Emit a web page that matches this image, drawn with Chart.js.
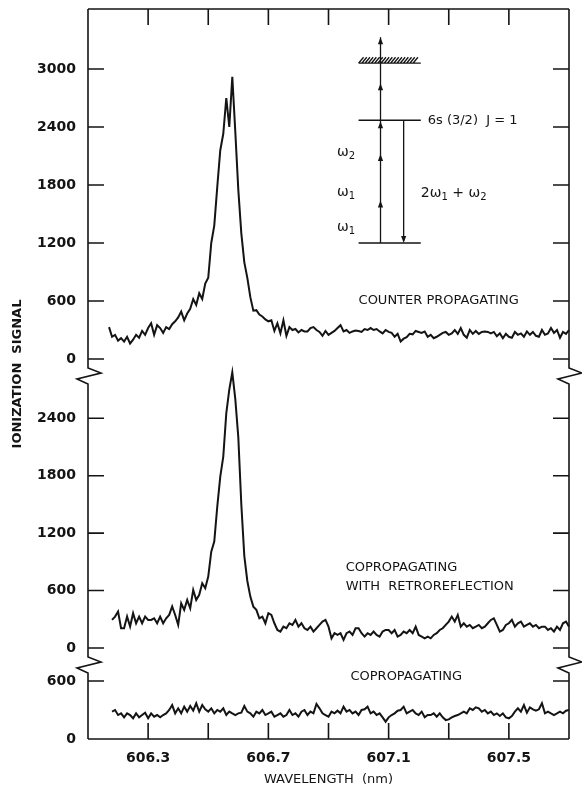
<!DOCTYPE html>
<html>
<head>
<meta charset="utf-8">
<script src="https://cdn.jsdelivr.net/npm/chart.js@4.4.1/dist/chart.umd.min.js"></script>
<style>
  html, body { margin: 0; padding: 0; background: #fff; }
  #wrap { position: relative; width: 582px; height: 790px; }
</style>
</head>
<body>
<div id="wrap"><canvas id="chart" width="582" height="790"></canvas></div>
<script>
// scan grid (nm): one reading every 0.01 nm
const scanStart = 606.17;
const scanStep = 0.01;

// ionization signal
const counterProp = [
  330, 230, 250, 190, 215, 180, 230, 160, 200, 250, 220, 290, 250, 320, 370, 250, 350, 320, 270, 330,
  310, 360, 390, 430, 490, 400, 470, 520, 620, 560, 680, 620, 780, 840, 1200, 1380, 1780, 2160, 2330, 2700,
  2400, 2920, 2350, 1750, 1300, 1000, 840,
  640, 500, 505, 460, 440, 410, 390, 400, 290, 370, 265, 400, 240, 330, 300, 310, 275, 300, 285, 285,
  320, 330, 300, 280, 240, 290, 250, 270, 290, 320, 350, 285, 300, 270, 285, 295, 290, 280, 310, 300,
  320, 300, 310, 285, 265, 300, 280, 270, 230, 260,
  180, 210, 225, 260, 255, 290, 280, 270, 285, 230, 250, 215, 230, 250, 270, 280, 250, 265, 300, 260,
  320, 250, 220, 300, 260, 290, 260, 280, 285, 280, 265, 280, 235, 265, 215, 260, 230, 220, 280, 250,
  265, 230, 285, 250, 280, 240, 230, 300, 250, 265, 320, 270, 300, 220, 280, 260, 300
];

const coPropRetro = [
  null,
  293, 328, 380, 206, 206, 328, 224, 363, 258, 328, 258, 328, 293, 293, 310, 258, 328, 258, 310, 345,
  433, 345, 241, 467, 398, 502, 415, 607, 502, 555, 676, 624, 746, 1007, 1112, 1477, 1791, 2000, 2453, 2700,
  2880, 2600, 2200, 1500, 960, 700,
  537, 432, 398, 310, 328, 258, 363, 345, 258, 188, 171, 223, 206, 258, 241, 293, 223, 258, 206, 188,
  223, 171, 206, 241, 276, 293, 223, 101, 154, 136, 154, 84, 154, 171, 136, 206, 206, 154, 119, 154,
  136, 171, 136, 119, 171, 188, 188, 154, 188, 119,
  136, 171, 154, 188, 154, 223, 136, 119, 101, 119, 101, 136, 154, 188, 206, 241, 276, 328, 276, 345,
  223, 258, 223, 241, 206, 223, 241, 206, 223, 258, 293, 310, 241, 171, 188, 241, 258, 293, 223, 258,
  276, 223, 241, 258, 223, 241, 206, 223, 223, 188, 206, 171, 223, 188, 258, 276, 223
];

const coProp = [
  null,
  283, 300, 248, 265, 224, 265, 248, 214, 265, 224, 248, 272, 214, 265, 231, 248, 224, 248, 265, 300,
  351, 265, 317, 265, 334, 283, 341, 293, 369, 283, 351, 307, 283, 317, 265, 300, 283, 317, 248, 283,
  265, 248, 265, 272, 341, 283, 265, 231, 283, 265, 300, 248, 265, 283, 231, 248, 265, 231, 248, 300,
  248, 265, 231, 283, 300, 248, 283, 265, 362, 317, 265, 248, 231, 283, 265, 293, 265,
  334, 283, 300, 265, 283, 248, 300, 307, 334, 265, 283, 248, 265, 224, 179, 224, 248, 265, 293, 300,
  334, 265, 283, 300, 265, 248, 283, 224, 248, 248, 265, 231, 265, 224, 196, 203, 224, 238, 248, 265,
  283, 265, 317, 300, 327, 317, 283, 300, 265, 283, 248, 265, 238, 265, 224, 214, 238, 283, 317, 283,
  351, 272, 327, 307, 293, 307, 369, 265, 283, 265, 248, 265, 283, 265, 293, 300
];

// axis ticks
const xTicks = [606.1, 606.3, 606.5, 606.7, 606.9, 607.1, 607.3, 607.5, 607.7];
const xLabeled = [606.3, 606.7, 607.1, 607.5];
const topTicks = [0, 600, 1200, 1800, 2400, 3000];
const midTicks = [0, 600, 1200, 1800, 2400];
const botTicks = [0, 600];

const ink = "#141414";
const FONT = '"DejaVu Sans", sans-serif';

function toPoints(values) {
  const pts = [];
  values.forEach((v, i) => {
    if (v !== null) pts.push({ x: +(scanStart + i * scanStep).toFixed(3), y: v });
  });
  return pts;
}

// frame with broken sides, inward ticks, level diagram and captions
const framePlugin = {
  id: "frameAndNotes",
  afterDatasetsDraw(chart) {
    const { ctx, chartArea: ca, scales } = chart;
    const sx = scales.x, yT = scales.yTop, yM = scales.yMid, yB = scales.yBot;
    ctx.save();
    ctx.strokeStyle = ink;
    ctx.fillStyle = ink;
    ctx.lineWidth = 1.6;

    const breaks = [yT.bottom, yM.bottom];
    ctx.beginPath();
    ctx.moveTo(ca.left, ca.top); ctx.lineTo(ca.right, ca.top);
    ctx.moveTo(ca.left, ca.bottom); ctx.lineTo(ca.right, ca.bottom);
    [ca.left, ca.right].forEach(x => {
      ctx.moveTo(x, ca.top);
      breaks.forEach(b => {
        ctx.lineTo(x, b - 8);
        ctx.lineTo(x + 13, b - 3);
        ctx.lineTo(x - 11, b + 3);
        ctx.lineTo(x, b + 8);
      });
      ctx.lineTo(x, ca.bottom);
    });
    ctx.stroke();

    // inward tick marks
    const tl = 16;
    ctx.beginPath();
    xTicks.forEach(v => {
      const px = sx.getPixelForValue(v);
      if (px <= ca.left + 1 || px >= ca.right - 1) return;
      ctx.moveTo(px, ca.top); ctx.lineTo(px, ca.top + tl);
      ctx.moveTo(px, ca.bottom); ctx.lineTo(px, ca.bottom - tl);
    });
    [[yT, topTicks], [yM, midTicks], [yB, botTicks]].forEach(([s, vals]) => {
      vals.forEach(v => {
        const py = s.getPixelForValue(v);
        if (py >= ca.bottom - 1) return;
        ctx.moveTo(ca.left, py); ctx.lineTo(ca.left + tl, py);
        ctx.moveTo(ca.right, py); ctx.lineTo(ca.right - tl, py);
      });
    });
    ctx.stroke();

    // energy level inset (placed in top panel data units)
    const X = v => sx.getPixelForValue(v);
    const Y = v => yT.getPixelForValue(v);
    const lvlL = X(607.0), lvlR = X(607.207);
    const ladder = X(607.073), emit = X(607.15);
    const gY = Y(1200), eY = Y(2470), iY = Y(3060), topY = Y(3330);
    ctx.lineWidth = 1.3;
    ctx.beginPath();
    ctx.moveTo(lvlL, gY); ctx.lineTo(lvlR, gY);
    ctx.moveTo(lvlL, eY); ctx.lineTo(lvlR, eY);
    ctx.moveTo(lvlL, iY); ctx.lineTo(lvlR, iY);
    for (let hx = lvlL; hx <= lvlR - 5; hx += 3.2) {
      ctx.moveTo(hx, iY); ctx.lineTo(hx + 5, iY - 6);
    }
    ctx.moveTo(ladder, gY); ctx.lineTo(ladder, topY);
    ctx.moveTo(emit, eY); ctx.lineTo(emit, gY - 2);
    ctx.stroke();

    const upHead = (x, y) => {
      ctx.beginPath();
      ctx.moveTo(x, y); ctx.lineTo(x - 2.6, y + 7); ctx.lineTo(x + 2.6, y + 7);
      ctx.closePath(); ctx.fill();
    };
    [1640, 2120, 2460, 2854, 3330].forEach(v => upHead(ladder, Y(v)));
    ctx.beginPath();
    ctx.moveTo(emit, gY); ctx.lineTo(emit - 2.6, gY - 7); ctx.lineTo(emit + 2.6, gY - 7);
    ctx.closePath(); ctx.fill();

    ctx.textBaseline = "middle";
    ctx.textAlign = "left";
    const omega = (x, y, sub) => {
      ctx.font = "14px " + FONT;
      ctx.fillText("\u03c9", x, y);
      const w = ctx.measureText("\u03c9").width;
      ctx.font = "10px " + FONT;
      ctx.fillText(sub, x + w, y + 4);
      return x + w + ctx.measureText(sub).width;
    };
    omega(X(606.928), Y(2140), "2");
    omega(X(606.928), Y(1727), "1");
    omega(X(606.928), Y(1365), "1");
    ctx.font = "13px " + FONT;
    ctx.fillText("6s (3/2)  J = 1", X(607.23), Y(2470));
    let tx = X(607.207);
    ctx.font = "14px " + FONT;
    ctx.fillText("2", tx, Y(1716));
    tx += ctx.measureText("2").width;
    tx = omega(tx, Y(1716), "1");
    ctx.font = "14px " + FONT;
    ctx.fillText(" + ", tx, Y(1716));
    tx += ctx.measureText(" + ").width;
    omega(tx, Y(1716), "2");

    // trace captions
    ctx.font = "13px " + FONT;
    ctx.fillText("COUNTER PROPAGATING", X(607.0), Y(600));
    ctx.fillText("COPROPAGATING", X(606.957), yM.getPixelForValue(836));
    ctx.fillText("WITH  RETROREFLECTION", X(606.957), yM.getPixelForValue(637));
    ctx.fillText("COPROPAGATING", X(606.973), yB.getPixelForValue(641));

    // y axis title
    ctx.translate(18, 374);
    ctx.rotate(-Math.PI / 2);
    ctx.textAlign = "center";
    ctx.font = "bold 13px " + FONT;
    ctx.fillText("IONIZATION  SIGNAL", 0, 0);
    ctx.restore();
  }
};

function yAxis(min, max, ticks, weight, stackWeight) {
  return {
    type: "linear",
    position: "left",
    stack: "signal",
    stackWeight: stackWeight,
    weight: weight,
    min: min,
    max: max,
    grid: { display: false, drawTicks: false },
    border: { display: false },
    afterBuildTicks: s => { s.ticks = ticks.map(v => ({ value: v })); },
    afterFit: s => {
      s.width = 88;
      s.paddingTop = 0;
      s.paddingBottom = 0;
    },
    ticks: {
      autoSkip: false,
      padding: 12,
      color: ink,
      font: { family: FONT, size: 14, weight: "bold" },
      callback: v => String(v)
    }
  };
}

const lineStyle = {
  borderColor: ink,
  borderWidth: 2,
  pointRadius: 0,
  tension: 0,
  fill: false,
  clip: false
};

new Chart(document.getElementById("chart"), {
  type: "line",
  data: {
    datasets: [
      Object.assign({ label: "Counter propagating", data: toPoints(counterProp), yAxisID: "yTop" }, lineStyle),
      Object.assign({ label: "Copropagating with retroreflection", data: toPoints(coPropRetro), yAxisID: "yMid" }, lineStyle),
      Object.assign({ label: "Copropagating", data: toPoints(coProp), yAxisID: "yBot" }, lineStyle)
    ]
  },
  options: {
    responsive: false,
    animation: false,
    devicePixelRatio: 1,
    layout: { padding: { top: 9, right: 13, bottom: 0, left: 0 } },
    plugins: { legend: { display: false }, tooltip: { enabled: false } },
    scales: {
      x: {
        type: "linear",
        position: "bottom",
        min: 606.1,
        max: 607.7,
        grid: { display: false, drawTicks: false },
        border: { display: false },
        afterBuildTicks: s => { s.ticks = xTicks.map(v => ({ value: v })); },
        afterFit: s => {
          s.height = 51;
          s.paddingLeft = 0;
          s.paddingRight = 0;
        },
        ticks: {
          autoSkip: false,
          maxRotation: 0,
          padding: 11,
          color: ink,
          font: { family: FONT, size: 14, weight: "bold" },
          callback: v => (xLabeled.some(t => Math.abs(t - v) < 1e-6) ? v.toFixed(1) : "")
        },
        title: {
          display: true,
          text: "WAVELENGTH  (nm)",
          color: ink,
          font: { family: FONT, size: 13 },
          padding: { top: 0, bottom: 3 }
        }
      },
      yTop: yAxis(-176, 3621, topTicks, 3, 367),
      yMid: yAxis(-178, 2842, midTicks, 2, 289),
      yBot: yAxis(0, 765, botTicks, 1, 74)
    }
  },
  plugins: [framePlugin]
});
</script>
</body>
</html>
